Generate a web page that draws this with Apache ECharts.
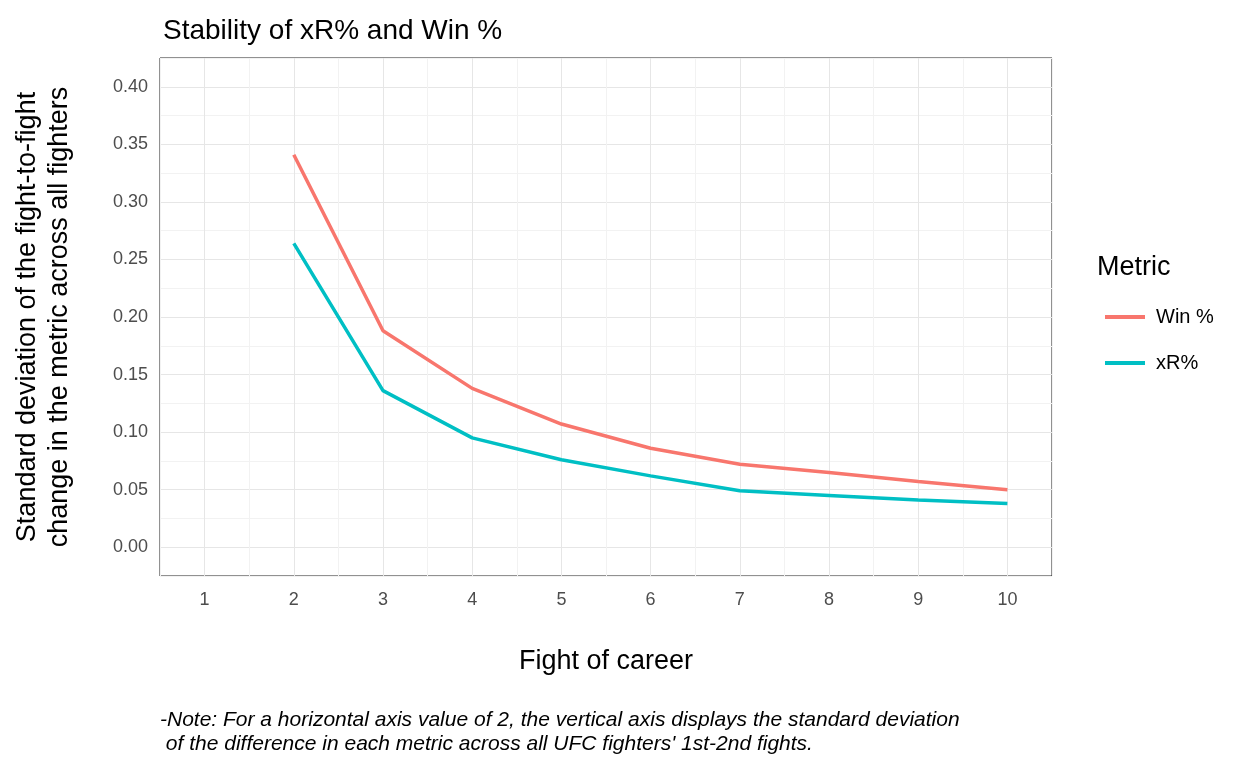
<!DOCTYPE html><html><head><meta charset="utf-8"><script src="https://cdn.jsdelivr.net/npm/echarts@6/dist/echarts.min.js"></script></head><body style="margin:0"><div id="c" style="width:1248px;height:768px"></div><script>
const fights=[2,3,4,5,6,7,8,9,10];
const winPct=[0.341,0.188,0.138,0.107,0.086,0.072,0.065,0.057,0.050];
const xrPct=[0.264,0.136,0.095,0.076,0.062,0.049,0.045,0.041,0.038];
const ch=echarts.init(document.getElementById('c'));
const F='Liberation Sans, Arial, sans-serif';
ch.setOption({
 title:{text:'Stability of xR% and Win %',left:158,top:12,textStyle:{fontFamily:F,fontSize:28,fontWeight:'normal',color:'#000'}},
 grid:{left:160,right:196,top:58,bottom:192,show:true,borderColor:'#222',borderWidth:1},
 legend:{orient:'vertical',left:1100,top:302,itemWidth:40,itemGap:26,icon:'rect',itemHeight:4,textStyle:{fontFamily:F,fontSize:20,color:'#000',padding:[0,0,0,6]},data:['Win %','xR%']},
 xAxis:{type:'value',min:0.5,max:10.5,interval:0.5,name:'Fight of career',nameLocation:'middle',nameGap:72,nameTextStyle:{fontFamily:F,fontSize:27,color:'#000'},
  axisLine:{show:false},axisTick:{show:false},
  axisLabel:{fontFamily:F,fontSize:18,color:'#4d4d4d',margin:15,formatter:v=>Number.isInteger(v)?String(v):''},
  splitLine:{lineStyle:{color:['#f2f2f2','#e6e6e6']}}},
 yAxis:{type:'value',min:-0.025,max:0.425,interval:0.025,name:'Standard deviation of the fight-to-fight\nchange in the metric across all fighters',nameLocation:'middle',nameGap:84,nameTextStyle:{fontFamily:F,fontSize:27,color:'#000',lineHeight:32},
  axisLine:{show:false},axisTick:{show:false},
  axisLabel:{fontFamily:F,fontSize:18,color:'#4d4d4d',margin:12,formatter:v=>{const r=Math.round(v*1000);return (r>=0&&r<=400&&r%50===0)?(r/1000).toFixed(2):'';}},
  splitLine:{lineStyle:{color:['#f2f2f2','#e6e6e6']}}},
 series:[
  {name:'Win %',type:'line',showSymbol:false,data:fights.map((f,i)=>[f,winPct[i]]),lineStyle:{width:3.5,color:'#F8766D'},itemStyle:{color:'#F8766D'}},
  {name:'xR%',type:'line',showSymbol:false,data:fights.map((f,i)=>[f,xrPct[i]]),lineStyle:{width:3.5,color:'#00BFC4'},itemStyle:{color:'#00BFC4'}}
 ],
 graphic:[
  {type:'text',left:1097,top:254,style:{text:'Metric',font:'27px '+F,fill:'#000'}},
  {type:'text',left:160,top:708,style:{text:"-Note: For a horizontal axis value of 2, the vertical axis displays the standard deviation\n of the difference in each metric across all UFC fighters' 1st-2nd fights.",font:'italic 21px '+F,fill:'#000',lineHeight:24}}
 ]
});
</script></body></html>
